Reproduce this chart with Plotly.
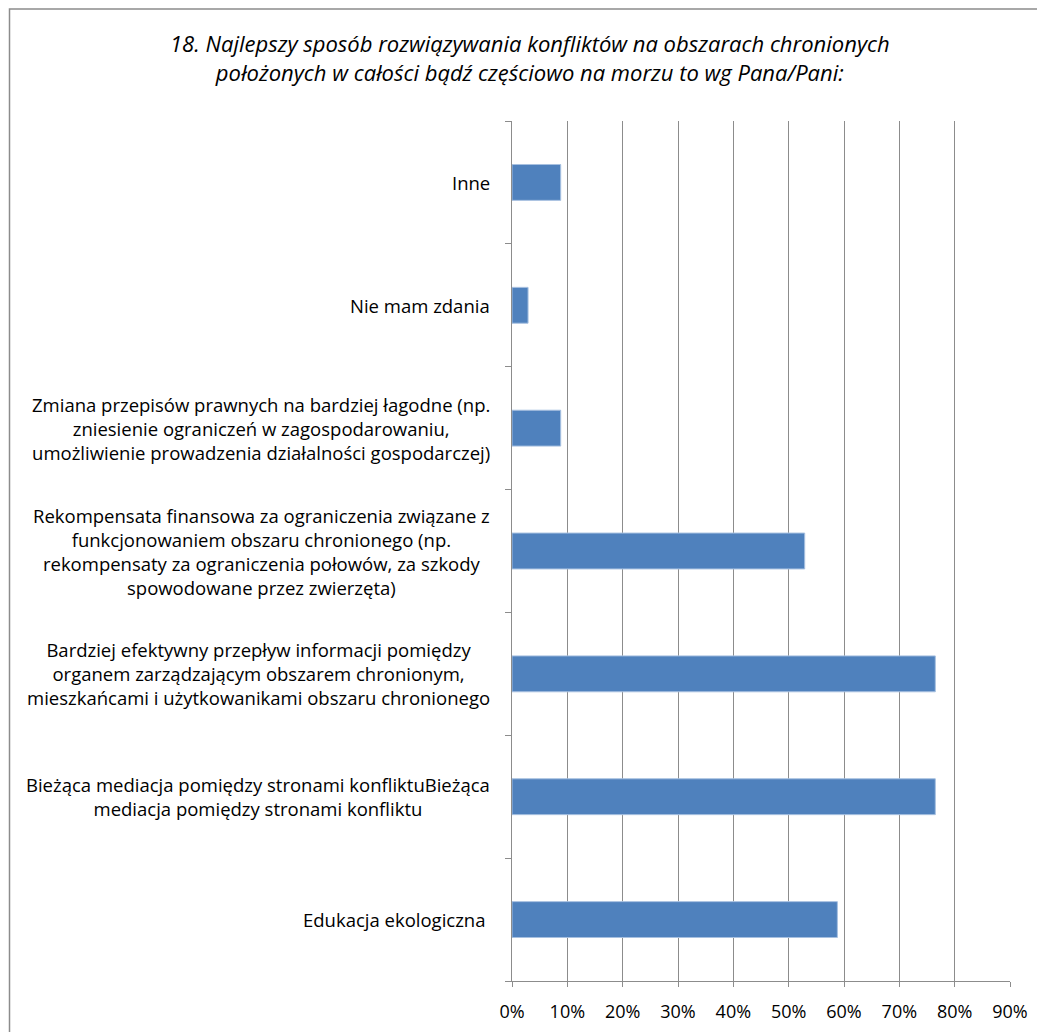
import plotly.graph_objects as go

categories = [
    "Edukacja ekologiczna ",
    "Bieżąca mediacja pomiędzy stronami konfliktuBieżąca<br>mediacja pomiędzy stronami konfliktu",
    "Bardziej efektywny przepływ informacji pomiędzy<br>organem zarządzającym obszarem chronionym,<br>mieszkańcami i użytkowanikami obszaru chronionego",
    "Rekompensata finansowa za ograniczenia związane z<br>funkcjonowaniem obszaru chronionego (np.<br>rekompensaty za ograniczenia połowów, za szkody<br>spowodowane przez zwierzęta)",
    "Zmiana przepisów prawnych na bardziej łagodne (np.<br>zniesienie ograniczeń w zagospodarowaniu,<br>umożliwienie prowadzenia działalności gospodarczej)",
    "Nie mam zdania",
    "Inne",
]
values = [0.588, 0.765, 0.765, 0.529, 0.088, 0.029, 0.088]
x_ticks = [0, 0.1, 0.2, 0.3, 0.4, 0.5, 0.6, 0.7, 0.8, 0.9]
x_tick_labels = ["0%", "10%", "20%", "30%", "40%", "50%", "60%", "70%", "80%", "90%"]
title_text = ("<i>18. Najlepszy sposób rozwiązywania konfliktów na obszarach chronionych<br>"
              "położonych w całości bądź częściowo na morzu to wg Pana/Pani:</i>")

FONT = "Open Sans"
W, H = 1037, 1024
ML, MR, MT, MB = 504, 34.5, 113, 51
PW = W - ML - MR
PH = H - MT - MB

fig = go.Figure()
fig.add_trace(go.Bar(
    x=values, y=categories, orientation="h",
    marker=dict(color="#4f81bd", line=dict(color="#a7c0e0", width=1)),
))

for c in categories:
    fig.add_annotation(
        x=-20 / PW, xref="paper", y=c, yref="y", text=c, showarrow=False,
        xanchor="right", yanchor="middle", align="center",
        font=dict(family=FONT, size=18.5, color="#000000"),
    )

fig.add_annotation(
    x=(522 - ML) / PW, xref="paper", y=(PH + MT - 18) / PH, yref="paper",
    xanchor="center", yanchor="top",
    text=title_text, showarrow=False, align="center",
    font=dict(family=FONT, size=22, color="#000000"),
)

fig.add_shape(type="rect", xref="paper", yref="paper",
              x0=(1 - ML) / PW, x1=(W + 20 - ML) / PW,
              y0=-(MB + 20) / PH, y1=(PH + MT - 1) / PH,
              line=dict(color="#8c8c8c", width=1.5), layer="below")

fig.update_layout(
    width=W, height=H,
    margin=dict(l=ML, r=MR, t=MT, b=MB, autoexpand=False),
    paper_bgcolor="white", plot_bgcolor="white",
    showlegend=False, bargap=0.708,
    font=dict(family=FONT, size=17, color="#000000"),
    xaxis=dict(
        range=[0, 0.9], tickvals=x_ticks, ticktext=x_tick_labels,
        showgrid=True, gridcolor="#8c8c8c", gridwidth=1,
        showline=True, linecolor="#8c8c8c", linewidth=1,
        ticks="outside", ticklen=5, tickcolor="#8c8c8c",
        ticklabelstandoff=9, automargin=False,
        zeroline=False, tickfont=dict(family=FONT, size=18),
    ),
    yaxis=dict(
        type="category", categoryorder="array", categoryarray=categories,
        tickson="boundaries", ticks="outside", ticklen=6, tickcolor="#8c8c8c",
        showticklabels=False, showgrid=False, automargin=False,
        showline=True, linecolor="#8c8c8c", linewidth=1,
        range=[-0.5, 6.5],
    ),
)

fig.write_html("out.html")
